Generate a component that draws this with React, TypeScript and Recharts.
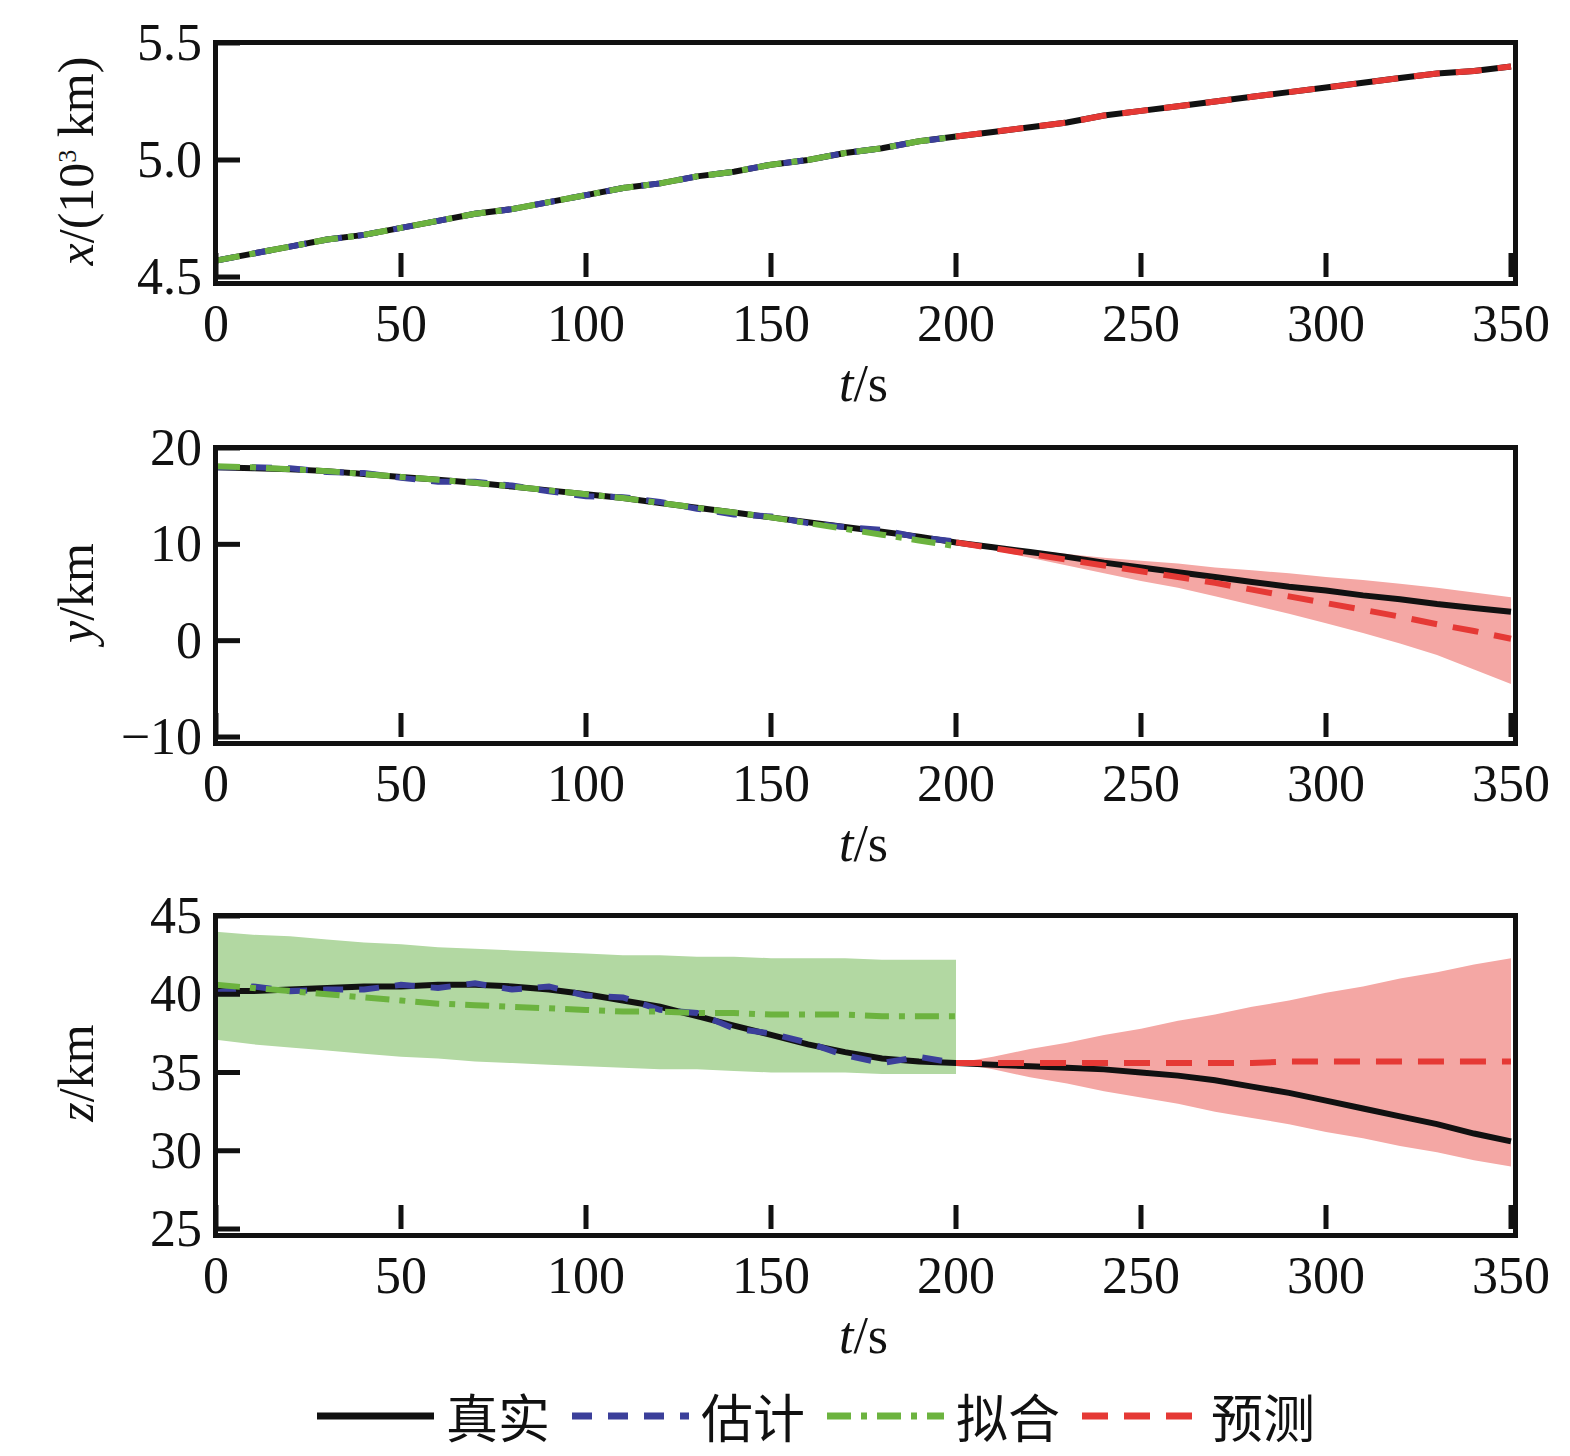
import { ComposedChart, Line, Area, XAxis, YAxis } from "recharts";

const times = [0,10,20,30,40,50,60,70,80,90,100,110,120,130,140,150,160,170,180,190,200,210,220,230,240,250,260,270,280,290,300,310,320,330,340,350];
const xTicks = [0, 50, 100, 150, 200, 250, 300, 350];

// panel x (10^3 km)
const xTrue = [4.57,4.60,4.63,4.66,4.68,4.71,4.74,4.77,4.79,4.82,4.85,4.88,4.90,4.93,4.95,4.98,5.00,5.03,5.05,5.08,5.10,5.12,5.14,5.16,5.19,5.21,5.23,5.25,5.27,5.29,5.31,5.33,5.35,5.37,5.38,5.40];
const xEst = [4.57,4.60,4.63,4.66,4.68,4.71,4.74,4.77,4.79,4.82,4.85,4.88,4.90,4.93,4.95,4.98,5.00,5.03,5.05,5.08,5.10];
const xFit = [4.57,4.60,4.63,4.66,4.68,4.71,4.74,4.77,4.79,4.82,4.85,4.88,4.90,4.93,4.95,4.98,5.00,5.03,5.05,5.08,5.10];
const xPred = [5.10,5.12,5.14,5.16,5.19,5.21,5.23,5.25,5.27,5.29,5.31,5.33,5.35,5.37,5.38,5.40];

// panel y (km)
const yTrue = [18.0,17.9,17.8,17.6,17.3,17.0,16.7,16.4,16.0,15.6,15.2,14.8,14.3,13.8,13.3,12.8,12.3,11.8,11.3,10.8,10.2,9.7,9.2,8.7,8.1,7.6,7.1,6.6,6.1,5.6,5.2,4.7,4.3,3.8,3.4,3.0];
const yEst = [18.0,18.0,17.9,17.5,17.4,16.9,16.5,16.5,16.1,15.5,15.0,14.9,14.4,13.7,13.1,12.9,12.2,11.8,11.5,10.7,10.3];
const yFit = [18.1,18.0,17.8,17.6,17.3,17.0,16.7,16.4,16.0,15.6,15.2,14.8,14.3,13.8,13.3,12.8,12.2,11.6,11.0,10.4,9.8];
const yPred = [10.2,9.6,9.0,8.4,7.8,7.2,6.6,6.0,5.3,4.6,3.9,3.2,2.5,1.7,1.0,0.2];
const yPredHi = [10.2,9.8,9.4,9.0,8.6,8.3,8.0,7.6,7.3,7.0,6.6,6.3,5.9,5.5,5.0,4.5];
const yPredLo = [10.2,9.4,8.6,7.8,7.0,6.2,5.5,4.6,3.7,2.8,1.8,0.8,-0.3,-1.5,-3.0,-4.5];

// panel z (km)
const zTrue = [40.2,40.2,40.3,40.4,40.5,40.5,40.6,40.6,40.5,40.3,40.0,39.6,39.2,38.6,38.0,37.4,36.8,36.3,35.9,35.7,35.6,35.5,35.4,35.3,35.2,35.0,34.8,34.5,34.1,33.7,33.2,32.7,32.2,31.7,31.1,30.6];
const zEst = [40.1,40.5,40.2,40.3,40.3,40.6,40.4,40.7,40.3,40.5,39.9,39.8,39.0,38.8,37.8,37.5,36.9,36.1,35.6,36.0,35.6];
const zFit = [40.6,40.4,40.2,40.0,39.8,39.6,39.4,39.3,39.2,39.1,39.0,38.9,38.9,38.8,38.8,38.7,38.7,38.7,38.6,38.6,38.6];
const zFitHi = [44.0,43.8,43.7,43.5,43.3,43.2,43.0,42.9,42.8,42.7,42.6,42.5,42.5,42.4,42.4,42.3,42.3,42.3,42.2,42.2,42.2];
const zFitLo = [37.1,36.8,36.6,36.4,36.2,36.0,35.9,35.7,35.6,35.5,35.4,35.3,35.2,35.2,35.1,35.0,35.0,35.0,34.9,34.9,34.9];
const zPred = [35.6,35.6,35.6,35.6,35.6,35.6,35.6,35.6,35.6,35.7,35.7,35.7,35.7,35.7,35.7,35.7];
const zPredHi = [35.6,36.0,36.5,36.9,37.4,37.8,38.3,38.7,39.2,39.6,40.1,40.5,41.0,41.4,41.9,42.3];
const zPredLo = [35.6,35.2,34.7,34.3,33.8,33.4,33.0,32.5,32.1,31.7,31.2,30.8,30.3,29.9,29.4,29.0];

const SPLIT = 20;

function rows(tru, est, fit, pred, fitHi?, fitLo?, predHi?, predLo?) {
  return times.map((t, i) => ({
    t,
    tru: tru[i],
    est: i <= SPLIT ? est[i] : null,
    fit: i <= SPLIT ? fit[i] : null,
    pred: i >= SPLIT ? pred[i - SPLIT] : null,
    fitBand: fitHi && i <= SPLIT ? [fitLo[i], fitHi[i]] : null,
    predBand: predHi && i >= SPLIT ? [predLo[i - SPLIT], predHi[i - SPLIT]] : null,
  }));
}

const SERIF = "'Liberation Serif', 'DejaVu Serif', serif";
const CJK = "'Noto Sans CJK SC', sans-serif";

const XTick = (p: any) => (
  <g>
    <line x1={p.x} x2={p.x} y1={p.y} y2={p.y - 24} stroke="#111" strokeWidth={5} />
    <text x={p.x} y={p.y + 64} textAnchor="middle" fontFamily={SERIF} fontSize={52} fill="#111">
      {p.payload.value}
    </text>
  </g>
);

const YTick = (p: any) => {
  const v = p.payload.value;
  const label = p.fmt ? p.fmt(v) : String(v).replace("-", "\u2212");
  return (
    <g>
      <line x1={p.x} x2={p.x + 24} y1={p.y} y2={p.y} stroke="#111" strokeWidth={5} />
      <text x={p.x - 14} y={p.y + 17} textAnchor="end" fontFamily={SERIF} fontSize={52} fill="#111">
        {label}
      </text>
    </g>
  );
};

const PLOT_W = 1295;

function Panel({ top, plotH, data, domain, ticks, fmt, ylabel }: any) {
  const m = { top: 20, right: 1554 - 200 - PLOT_W, bottom: 110, left: 0 };
  return (
    <div style={{ position: "absolute", left: 8, top }}>
      <ComposedChart width={1554} height={m.top + plotH + m.bottom} data={data} margin={m} style={{ overflow: "visible" }}>
        <XAxis dataKey="t" type="number" domain={[0, 350]} ticks={xTicks} height={1}
          tickSize={0} tickMargin={0} tick={<XTick />} axisLine={false} />
        <YAxis type="number" domain={domain} ticks={ticks} width={200} tickSize={0} tickMargin={0}
          tick={<YTick fmt={fmt} />} axisLine={false} allowDataOverflow />
        <Area dataKey="fitBand" fill="#b2d8a2" fillOpacity={1} stroke="none" isAnimationActive={false} connectNulls={false} />
        <Area dataKey="predBand" fill="#f4a7a4" fillOpacity={1} stroke="none" isAnimationActive={false} connectNulls={false} />
        <Line dataKey="tru" stroke="#111" strokeWidth={6} dot={false} isAnimationActive={false} />
        <Line dataKey="est" stroke="#3b3f9a" strokeWidth={6} strokeDasharray="20 16" dot={false} isAnimationActive={false} />
        <Line dataKey="fit" stroke="#6cb33f" strokeWidth={6} strokeDasharray="24 10 6 10" dot={false} isAnimationActive={false} />
        <Line dataKey="pred" stroke="#e53935" strokeWidth={6} strokeDasharray="26 16" dot={false} isAnimationActive={false} />
      </ComposedChart>
      <div style={{ position: "absolute", left: 197, top: m.top - 3, width: PLOT_W, height: plotH + 1, border: "5px solid #111", pointerEvents: "none" }} />
      <div style={{ position: "absolute", left: 0, top: m.top, width: 120, height: plotH, display: "flex", alignItems: "center", justifyContent: "center" }}>
        <div style={{ transform: "rotate(-90deg)", whiteSpace: "nowrap", fontFamily: SERIF, fontSize: 50, color: "#111" }}>
          {ylabel}
        </div>
      </div>
      <div style={{ position: "absolute", left: 200, width: PLOT_W, top: m.top + plotH + 76, textAlign: "center", fontFamily: SERIF, fontSize: 52, color: "#111" }}>
        <i>t</i>/s
      </div>
    </div>
  );
}

const legendItems = [
  { name: "真实", color: "#111", dash: "" },
  { name: "估计", color: "#3b3f9a", dash: "20 16" },
  { name: "拟合", color: "#6cb33f", dash: "24 10 6 10" },
  { name: "预测", color: "#e53935", dash: "26 16" },
];

export default function App() {
  return (
    <div style={{ position: "relative", width: 1554, height: 1440 }}>
      <Panel top={15} plotH={235} data={rows(xTrue, xEst, xFit, xPred)} domain={[4.5, 5.5]} ticks={[4.5, 5.0, 5.5]}
        fmt={(v: number) => v.toFixed(1)} ylabel={<span><i>x</i>/(10<sup style={{ fontSize: 26 }}>3</sup> km)</span>} />
      <Panel top={420} plotH={290} data={rows(yTrue, yEst, yFit, yPred, null, null, yPredHi, yPredLo)} domain={[-10, 20]} ticks={[-10, 0, 10, 20]}
        ylabel={<span><i>y</i>/km</span>} />
      <Panel top={888} plotH={314} data={rows(zTrue, zEst, zFit, zPred, zFitHi, zFitLo, zPredHi, zPredLo)} domain={[25, 45]} ticks={[25, 30, 35, 40, 45]}
        ylabel={<span><i>z</i>/km</span>} />
      <div style={{ position: "absolute", left: 305, top: 1370, display: "flex", alignItems: "center", fontFamily: CJK, fontSize: 52, color: "#111" }}>
        {legendItems.map((it) => (
          <div key={it.name} style={{ display: "flex", alignItems: "center", marginRight: 18 }}>
            <svg width={125} height={20}>
              <line x1={4} x2={121} y1={10} y2={10} stroke={it.color} strokeWidth={7} strokeDasharray={it.dash || undefined} />
            </svg>
            <span style={{ marginLeft: 8 }}>{it.name}</span>
          </div>
        ))}
      </div>
    </div>
  );
}
